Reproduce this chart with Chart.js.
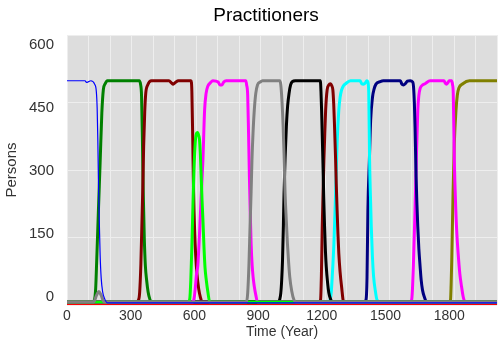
<!DOCTYPE html>
<html><head><meta charset="utf-8">
<script src="https://cdn.jsdelivr.net/npm/chart.js@4"></script>
<style>html,body{margin:0;padding:0;background:#fff}</style>
</head><body>
<canvas id="c" width="500" height="343"></canvas>
<script>
const chartTitle = 'Practitioners';
const xAxisTitle = 'Time (Year)';
const yAxisTitle = 'Persons';
const xTickLabels = [0, 300, 600, 900, 1200, 1500, 1800];
const yTickLabels = [0, 150, 300, 450, 600];
const xMin = 0, xMax = 2025, yMin = -19, yMax = 624;
const xGridDivisions = 20, yGridDivisions = 4;

// series (year, persons)
const blueYears  = [0, 85, 92, 102, 112, 130, 138, 142, 145, 148, 152, 156, 161, 168, 178, 190, 2025];
const blueValues = [515, 515, 511, 513, 515, 507, 490, 450, 380, 280, 180, 100, 45, 12, -5, -14, -14];

const greenYears  = [0, 120, 129, 135, 140, 148, 156, 164, 171, 180, 190, 340, 347, 351, 355, 359, 364, 369, 375, 382, 390, 398, 2025];
const greenValues = [-12, -12, -7, 20, 88, 207, 320, 438, 493, 508, 515, 515, 505, 480, 380, 250, 140, 75, 40, 12, -5, -12, -12];

const maroon1Years  = [0, 325, 336, 342, 348, 353, 357, 361, 366, 371, 380, 398, 480, 492, 500, 510, 525, 584, 588, 592, 596, 601, 606, 612, 620, 628, 636, 2025];
const maroon1Values = [-12, -12, -8, 10, 80, 180, 260, 360, 440, 486, 505, 515, 515, 510, 507, 511, 515, 515, 490, 380, 250, 160, 100, 55, 20, 0, -12, -12];

const limeYears  = [0, 570, 578, 583, 588, 593, 597, 601, 605, 610, 615, 620, 624, 628, 632, 636, 640, 645, 650, 656, 664, 672, 2025];
const limeValues = [-12, -12, -5, 40, 120, 215, 290, 340, 375, 390, 392, 385, 375, 340, 286, 230, 185, 120, 70, 40, 10, -12, -12];

const magenta1Years  = [0, 590, 598, 604, 610, 616, 624, 632, 640, 648, 655, 663, 675, 687, 712, 720, 730, 738, 750, 842, 846, 851, 855, 859, 863, 867, 872, 877, 882, 889, 897, 2025];
const magenta1Values = [-12, -12, -5, 20, 55, 75, 150, 240, 326, 445, 485, 502, 510, 515, 512, 505, 505, 512, 515, 515, 505, 480, 390, 286, 200, 128, 75, 45, 25, 5, -12, -12];

const grayYears  = [0, 125, 140, 150, 160, 175, 845, 851, 857, 862, 867, 871, 876, 882, 889, 897, 910, 921, 1002, 1007, 1012, 1018, 1023, 1027, 1033, 1038, 1044, 1049, 1058, 1069, 1080, 2025];
const grayValues = [-12, -12, 5, 13, 5, -12, -12, 10, 80, 167, 250, 326, 390, 445, 485, 505, 512, 515, 515, 505, 470, 405, 320, 247, 180, 128, 80, 48, 15, -7, -12, -12];

const blackYears  = [0, 995, 1002, 1007, 1011, 1015, 1019, 1022, 1027, 1033, 1039, 1046, 1053, 1061, 1075, 1193, 1196, 1199, 1205, 1209, 1213, 1217, 1221, 1227, 1233, 1240, 1249, 2025];
const blackValues = [-12, -12, -5, 10, 40, 88, 170, 247, 330, 405, 455, 486, 505, 513, 515, 515, 490, 445, 326, 240, 167, 110, 72, 35, 10, -3, -12, -12];

const maroon2Years  = [0, 1185, 1194, 1198, 1202, 1206, 1210, 1214, 1218, 1225, 1233, 1241, 1247, 1252, 1256, 1260, 1265, 1268, 1272, 1276, 1280, 1286, 1293, 1303, 2025];
const maroon2Values = [-12, -12, -7, 50, 167, 250, 326, 390, 445, 493, 505, 508, 503, 493, 460, 405, 326, 270, 207, 150, 104, 60, 25, -12, -12];

const cyanYears  = [0, 1232, 1240, 1245, 1249, 1257, 1265, 1272, 1280, 1286, 1293, 1302, 1312, 1335, 1380, 1388, 1396, 1405, 1412, 1417, 1421, 1425, 1429, 1433, 1438, 1444, 1452, 1460, 1475, 2025];
const cyanValues = [-12, -12, -5, 15, 48, 128, 247, 366, 445, 475, 493, 503, 508, 515, 515, 508, 507, 510, 515, 512, 486, 326, 240, 167, 100, 48, 15, -7, -12, -12];

const navyYears  = [0, 1398, 1408, 1413, 1417, 1424, 1430, 1439, 1446, 1455, 1475, 1490, 1570, 1577, 1585, 1593, 1603, 1616, 1628, 1632, 1636, 1639, 1644, 1648, 1652, 1657, 1663, 1668, 1674, 1683, 1694, 2025];
const navyValues = [-12, -12, -7, 48, 207, 326, 421, 477, 495, 507, 513, 515, 515, 507, 505, 508, 514, 515, 512, 500, 460, 405, 286, 220, 167, 115, 72, 40, 17, 0, -12, -12];

const magenta2Years  = [0, 1612, 1623, 1627, 1631, 1635, 1639, 1645, 1652, 1657, 1663, 1675, 1686, 1710, 1775, 1782, 1787, 1793, 1800, 1811, 1816, 1819, 1824, 1831, 1836, 1842, 1850, 1858, 1866, 1875, 2025];
const magenta2Values = [-12, -12, -7, 20, 72, 140, 207, 326, 445, 480, 497, 505, 508, 515, 515, 509, 507, 510, 515, 515, 505, 486, 326, 207, 150, 104, 55, 25, 0, -12, -12];

const oliveYears  = [0, 1795, 1806, 1809, 1812, 1818, 1824, 1832, 1838, 1845, 1864, 1895, 2025];
const oliveValues = [-12, -12, -7, 30, 88, 247, 366, 445, 480, 497, 508, 515, 515];

const redYears  = [0, 2025];
const redValues = [-17, -17];

const seriesList = [
  {years: blueYears, values: blueValues, color: '#0000ff', width: 1.2},
  {years: grayYears, values: grayValues, color: '#808080', width: 3},
  {years: limeYears, values: limeValues, color: '#00ff00', width: 3},
  {years: magenta1Years, values: magenta1Values, color: '#ff00ff', width: 3},
  {years: blackYears, values: blackValues, color: '#000000', width: 3},
  {years: maroon1Years, values: maroon1Values, color: '#800000', width: 3},
  {years: maroon2Years, values: maroon2Values, color: '#800000', width: 3},
  {years: greenYears, values: greenValues, color: '#008000', width: 3},
  {years: cyanYears, values: cyanValues, color: '#00ffff', width: 3},
  {years: navyYears, values: navyValues, color: '#000080', width: 3},
  {years: magenta2Years, values: magenta2Values, color: '#ff00ff', width: 3},
  {years: oliveYears, values: oliveValues, color: '#808000', width: 3},
  {years: redYears, values: redValues, color: '#ff0000', width: 3}
];

const datasets = seriesList.map(s => ({
  data: s.years.map((x, i) => ({x: x, y: s.values[i]})),
  borderColor: s.color,
  borderWidth: s.width,
  pointRadius: 0,
  fill: false,
  cubicInterpolationMode: 'monotone'
}));

const xGridValues = [];
for (let k = 0; k <= xGridDivisions; k++) xGridValues.push(xMin + k * (xMax - xMin) / xGridDivisions);
const yGridValues = [];
for (let k = 0; k <= yGridDivisions; k++) yGridValues.push(yMin + k * (yMax - yMin) / yGridDivisions);

function mergeTicks(grid, labels) {
  const all = Array.from(new Set(grid.concat(labels))).sort((a, b) => a - b);
  return all.map(v => ({value: v}));
}
const gridCol = '#eeeeee';
const FONT = '"Liberation Sans", Arial, sans-serif';

const bgPlugin = {
  id: 'bg',
  beforeDraw(chart) {
    const {ctx, chartArea: a} = chart;
    ctx.save();
    ctx.fillStyle = '#dddddd';
    ctx.fillRect(a.left, a.top, a.right - a.left, a.bottom - a.top);
    ctx.restore();
  },
  afterDraw(chart) {
    const ctx = chart.ctx;
    ctx.save();
    ctx.font = '19px ' + FONT;
    ctx.fillStyle = '#000';
    ctx.textAlign = 'center';
    ctx.textBaseline = 'alphabetic';
    ctx.fillText(chartTitle, 266, 21);
    ctx.restore();
  }
};

new Chart(document.getElementById('c'), {
  type: 'line',
  data: {datasets},
  plugins: [bgPlugin],
  options: {
    responsive: false,
    animation: false,
    events: [],
    layout: {padding: {top: 35, left: 0, right: 0, bottom: 0}},
    plugins: {legend: {display: false}, title: {display: false}, tooltip: {enabled: false}},
    scales: {
      x: {
        type: 'linear', min: xMin, max: xMax,
        afterBuildTicks: s => { s.ticks = mergeTicks(xGridValues, xTickLabels); },
        afterFit: s => { s.height = 38; },
        ticks: {
          autoSkip: false, maxRotation: 0, padding: 3, color: '#333',
          font: {family: FONT, size: 14},
          callback: v => xTickLabels.includes(v) ? String(v) : ''
        },
        grid: {
          drawTicks: false,
          color: c => (c.tick && xGridValues.some(g => Math.abs(g - c.tick.value) < 1e-6)) ? gridCol : 'rgba(0,0,0,0)',
          lineWidth: 1
        },
        border: {display: false},
        title: {display: true, text: xAxisTitle, color: '#333', font: {family: FONT, size: 14}, padding: {top: 2, bottom: 2}}
      },
      y: {
        type: 'linear', min: yMin, max: yMax,
        afterBuildTicks: s => { s.ticks = mergeTicks(yGridValues, yTickLabels); },
        afterFit: s => { s.width = 67; },
        ticks: {
          autoSkip: false, padding: 13, color: '#333',
          font: {family: FONT, size: 15},
          callback: v => yTickLabels.includes(v) ? String(v) : ''
        },
        grid: {
          drawTicks: false,
          color: c => (c.tick && yGridValues.some(g => Math.abs(g - c.tick.value) < 1e-6)) ? gridCol : 'rgba(0,0,0,0)',
          lineWidth: 1
        },
        border: {display: false},
        title: {display: true, text: yAxisTitle, color: '#333', font: {family: FONT, size: 15}, padding: {top: 3, bottom: 3}}
      }
    }
  }
});
</script>
</body></html>
